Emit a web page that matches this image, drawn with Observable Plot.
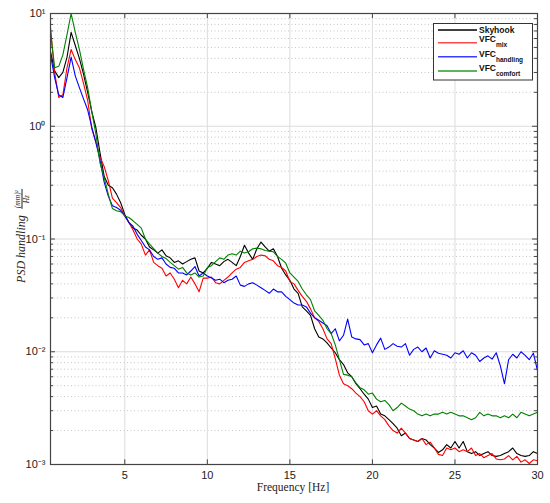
<!DOCTYPE html>
<html><head><meta charset="utf-8">
<script src="https://cdn.jsdelivr.net/npm/d3@7"></script>
<script src="https://cdn.jsdelivr.net/npm/@observablehq/plot@0.6"></script>
<style>
body{margin:0;background:#fff;}
#wrap{position:relative;width:550px;height:503px;overflow:hidden;}
#legsvg{position:absolute;left:0;top:0;width:550px;height:503px;pointer-events:none;}
.ylab{position:absolute;left:22px;top:236px;transform:translate(-50%,-50%) rotate(-90deg);white-space:nowrap;font-family:"Liberation Serif","DejaVu Serif",serif;font-style:italic;font-size:12px;color:#222;}
.frac{display:inline-block;vertical-align:middle;text-align:center;font-size:7.5px;line-height:8px;margin-left:3px;}
.frac .num{border-bottom:0.8px solid #222;padding:0 1px;}
.xlab{position:absolute;left:293px;top:481px;transform:translateX(-50%);white-space:nowrap;font-family:"Liberation Serif","DejaVu Serif",serif;font-size:11.5px;color:#222;}
</style></head>
<body><div id="wrap"></div>
<script>
const freq = [
 0.5,0.75,1,1.25,1.5,1.75,2,2.25,2.5,2.75,3,3.25,3.5,3.75,4,4.25,4.5,4.75,5,
 5.25,5.5,5.75,6,6.25,6.5,6.75,7,7.25,7.5,7.75,8,8.25,8.5,8.75,9,9.25,9.5,9.75,10,
 10.25,10.5,10.75,11,11.25,11.5,11.75,12,12.25,12.5,12.75,13,13.25,13.5,13.75,14,14.25,14.5,14.75,15,
 15.25,15.5,15.75,16,16.25,16.5,16.75,17,17.25,17.5,17.75,18,18.25,18.5,18.75,19,19.25,19.5,19.75,20,
 20.25,20.5,20.75,21,21.25,21.5,21.75,22,22.25,22.5,22.75,23,23.25,23.5,23.75,24,24.25,24.5,24.75,25,
 25.25,25.5,25.75,26,26.25,26.5,26.75,27,27.25,27.5,27.75,28,28.25,28.5,28.75,29,29.25,29.5,29.75,30
];
const skyhook = [
 4.6,3.1,2.7,3.0,4.1,6.8,5.2,4.0,2.9,2.0,1.35,0.97,0.58,0.36,0.30,0.285,0.25,0.21,0.165,
 0.14,0.125,0.12,0.108,0.1,0.085,0.08,0.075,0.08,0.071,0.068,0.062,0.064,0.06,0.063,0.066,0.068,0.052,0.05,0.055,
 0.062,0.06,0.058,0.063,0.066,0.062,0.058,0.07,0.088,0.075,0.066,0.082,0.094,0.085,0.078,0.082,0.07,0.055,0.048,0.043,
 0.036,0.033,0.025,0.023,0.021,0.016,0.0135,0.013,0.012,0.0108,0.0098,0.0085,0.0077,0.0065,0.006,0.0052,0.0047,0.0042,0.0038,0.0032,
 0.0033,0.0028,0.0027,0.0025,0.0023,0.0021,0.0018,0.0019,0.0017,0.00165,0.0016,0.0017,0.00165,0.0015,0.0014,0.00128,0.00135,0.0015,0.0014,0.0016,
 0.0014,0.0016,0.0013,0.00125,0.0013,0.0012,0.00125,0.0013,0.0012,0.00118,0.0012,0.00125,0.0013,0.0014,0.00125,0.0012,0.00118,0.0012,0.0013,0.00125
];
const vfcMix = [
 7.5,3.0,1.8,1.9,3.3,4.8,3.9,3.3,2.4,1.7,0.95,0.72,0.53,0.44,0.33,0.23,0.21,0.19,0.16,
 0.14,0.12,0.1,0.09,0.072,0.08,0.062,0.058,0.055,0.047,0.05,0.044,0.037,0.043,0.04,0.046,0.04,0.034,0.045,0.045,
 0.046,0.041,0.04,0.043,0.046,0.05,0.054,0.056,0.062,0.064,0.066,0.07,0.072,0.071,0.066,0.064,0.058,0.056,0.052,0.042,
 0.04,0.035,0.031,0.028,0.024,0.02,0.0186,0.016,0.013,0.0118,0.0087,0.0062,0.0052,0.005,0.0047,0.0043,0.004,0.0036,0.003,0.0028,
 0.003,0.0027,0.0025,0.0022,0.002,0.0019,0.0021,0.0019,0.0017,0.00165,0.0016,0.0017,0.0015,0.00158,0.0014,0.00123,0.0012,0.0014,0.00135,0.0014,
 0.0013,0.00135,0.0013,0.0014,0.0012,0.00125,0.00115,0.0012,0.00125,0.00112,0.0011,0.00112,0.0012,0.0011,0.00118,0.00105,0.0011,0.00102,0.0011,0.00108
];
const vfcHandling = [
 4.3,2.7,1.9,1.8,2.7,4.1,2.8,2.2,1.75,1.4,0.98,0.72,0.5,0.32,0.24,0.197,0.19,0.18,0.16,
 0.14,0.13,0.11,0.097,0.085,0.08,0.07,0.066,0.068,0.06,0.056,0.055,0.05,0.05,0.048,0.052,0.057,0.047,0.05,0.047,
 0.045,0.043,0.044,0.041,0.043,0.044,0.047,0.039,0.038,0.04,0.041,0.039,0.037,0.035,0.033,0.036,0.034,0.034,0.031,0.029,
 0.027,0.026,0.026,0.025,0.022,0.02,0.019,0.018,0.017,0.0145,0.016,0.0125,0.014,0.0195,0.0135,0.013,0.0128,0.0115,0.0118,0.0098,
 0.0115,0.0132,0.0105,0.011,0.0118,0.0112,0.011,0.0118,0.0093,0.0105,0.011,0.01,0.0108,0.0088,0.0102,0.0097,0.0095,0.0093,0.0088,0.0098,
 0.0095,0.0102,0.0088,0.0098,0.0093,0.0082,0.0088,0.0092,0.0086,0.0098,0.0075,0.0052,0.0085,0.0095,0.0088,0.01,0.0093,0.0085,0.0097,0.0068
];
const vfcComfort = [
 6.9,3.3,3.4,4.3,6.5,10.0,6.8,4.8,3.2,2.2,1.35,0.85,0.47,0.35,0.25,0.186,0.178,0.175,0.16,
 0.155,0.145,0.135,0.125,0.1,0.09,0.082,0.075,0.07,0.067,0.062,0.058,0.054,0.056,0.05,0.048,0.05,0.046,0.047,0.056,
 0.058,0.063,0.068,0.066,0.072,0.074,0.072,0.078,0.075,0.077,0.082,0.083,0.082,0.079,0.078,0.077,0.07,0.066,0.061,0.05,
 0.046,0.042,0.036,0.032,0.029,0.023,0.021,0.019,0.016,0.0145,0.0115,0.0085,0.0063,0.0062,0.006,0.0053,0.0048,0.0046,0.0042,0.0043,
 0.0038,0.0036,0.0037,0.0034,0.003,0.0032,0.0035,0.0033,0.0031,0.003,0.0028,0.0027,0.0028,0.0027,0.0028,0.0028,0.0029,0.0028,0.0029,0.0028,
 0.0027,0.0027,0.0026,0.0025,0.0026,0.0029,0.0027,0.0028,0.0027,0.0027,0.0026,0.0027,0.0026,0.0028,0.0026,0.0029,0.0028,0.0027,0.0028,0.0029
];
const xTicks = [5,10,15,20,25,30];
const yTicks = [0.001,0.01,0.1,1,10];
const seriesNames = ["Skyhook","VFC","VFC","VFC"];
const seriesSubs = ["","mix","handling","comfort"];
const seriesColors = ["#000000","#ff0000","#0000ff","#008000"];
const legendColors = ["#000000","#ff4a4a","#3c3cff","#2a9a2a"];
const seriesValues = [skyhook, vfcMix, vfcHandling, vfcComfort];

const xDomain = [0.5, 30];
const minorY = [];
for (const d of [0.001,0.01,0.1,1]) for (let k = 2; k <= 9; k++) minorY.push(d*k);
const sup = {"-3":"⁻³","-2":"⁻²","-1":"⁻¹","0":"⁰","1":"¹"};
const fmt = d => "10" + sup[String(Math.round(Math.log10(d)))];

const lineMarks = seriesValues.map((vals, i) =>
  Plot.line(freq.map((f, j) => ({f, v: vals[j]})), {x: "f", y: "v", stroke: seriesColors[i], strokeWidth: 1.1})
);

const chart = Plot.plot({
  width: 550, height: 503,
  marginLeft: 50, marginRight: 13, marginTop: 13, marginBottom: 39,
  x: {domain: xDomain},
  y: {type: "log", domain: [0.001, 10]},
  style: {fontFamily: "'Liberation Sans', Arial, sans-serif", fontSize: "11px", color: "#222", background: "#fff"},
  marks: [
    Plot.ruleY(minorY, {stroke: "#b8b8b8", strokeDasharray: "1,2.5", strokeWidth: 0.8}),
    Plot.ruleY([0.01, 0.1, 1], {stroke: "#dcdcdc"}),
    Plot.ruleX([5, 10, 15, 20, 25], {stroke: "#dcdcdc"}),
    ...lineMarks,
    Plot.ruleY(minorY, {x1: xDomain[0], x2: xDomain[0] + 0.18, stroke: "#444"}),
    Plot.ruleY(minorY, {x1: xDomain[1] - 0.18, x2: xDomain[1], stroke: "#444"}),
    Plot.ruleY(yTicks, {x1: xDomain[0], x2: xDomain[0] + 0.3, stroke: "#444"}),
    Plot.ruleY(yTicks, {x1: xDomain[1] - 0.3, x2: xDomain[1], stroke: "#444"}),
    Plot.ruleX(xTicks, {y1: 0.001, y2: 0.0011, stroke: "#444"}),
    Plot.ruleX(xTicks, {y1: 9.0, y2: 10, stroke: "#444"}),
    Plot.frame({stroke: "#444", strokeWidth: 1.2}),
    Plot.axisY({ticks: yTicks, tickFormat: fmt, tickSize: 0, tickPadding: 5, label: null, fontSize: 11}),
    Plot.axisX({ticks: xTicks, tickSize: 0, tickPadding: 7, label: null, fontSize: 11})
  ]
});
const wrap = document.getElementById("wrap");
wrap.appendChild(chart);

// legend as an overlay SVG
const NS = "http://www.w3.org/2000/svg";
const lsvg = document.createElementNS(NS, "svg");
lsvg.setAttribute("id", "legsvg");
lsvg.setAttribute("width", 550);
lsvg.setAttribute("height", 503);
const box = document.createElementNS(NS, "rect");
Object.entries({x: 433.5, y: 23.5, width: 99, height: 56.5, fill: "#fff", stroke: "#333", "stroke-width": 1}).forEach(([k, v]) => box.setAttribute(k, v));
lsvg.appendChild(box);
const lineYs = [30, 42.7, 56.7, 71];
const textYs = [33, 42, 57, 71];
seriesNames.forEach((n, i) => {
  const ln = document.createElementNS(NS, "line");
  Object.entries({x1: 438, x2: 477, y1: lineYs[i], y2: lineYs[i], stroke: legendColors[i], "stroke-width": 1.4}).forEach(([k, v]) => ln.setAttribute(k, v));
  lsvg.appendChild(ln);
  const t = document.createElementNS(NS, "text");
  t.setAttribute("x", 479);
  t.setAttribute("y", textYs[i]);
  t.setAttribute("font-family", "Liberation Sans, Arial, sans-serif");
  t.setAttribute("font-size", "8.5");
  t.setAttribute("font-weight", "bold");
  t.setAttribute("fill", "#111");
  t.textContent = n;
  if (seriesSubs[i]) {
    const s = document.createElementNS(NS, "tspan");
    s.setAttribute("dy", "5");
    s.setAttribute("font-size", "6.5");
    s.textContent = seriesSubs[i];
    t.appendChild(s);
  }
  lsvg.appendChild(t);
});
wrap.appendChild(lsvg);

const yl = document.createElement("div");
yl.className = "ylab";
yl.innerHTML = `PSD handling <span class="frac"><div class="num">(mm)²</div><div>Hz</div></span>`;
wrap.appendChild(yl);

const xl = document.createElement("div");
xl.className = "xlab";
xl.textContent = "Frequency [Hz]";
wrap.appendChild(xl);
</script>
</body></html>
